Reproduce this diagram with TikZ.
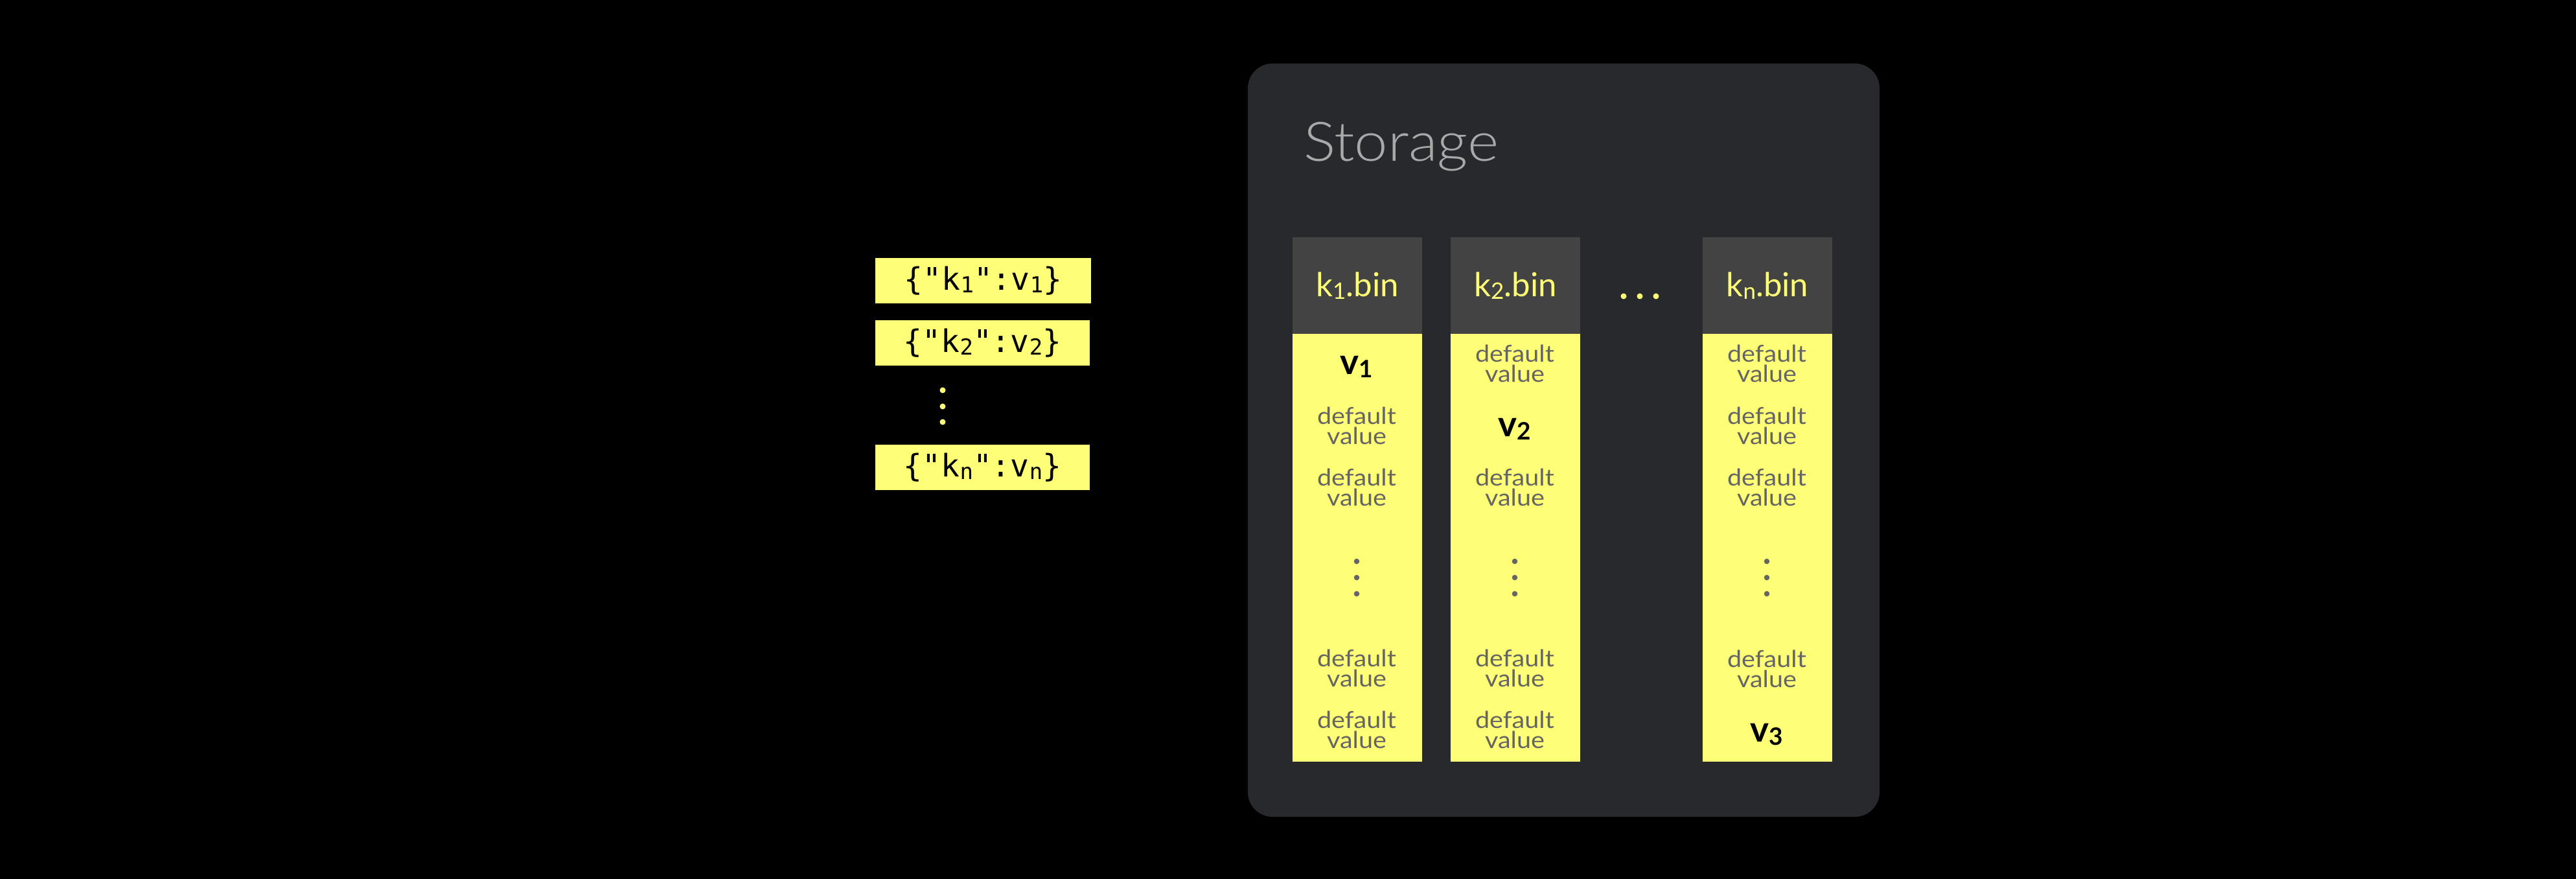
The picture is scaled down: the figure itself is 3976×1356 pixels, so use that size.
\documentclass[tikz,border=0pt]{standalone}
\usepackage{fontspec}
\setmainfont{Lato}
\newfontfamily\lightfont{Lato Light}[FakeStretch=1.1]
\newfontfamily\dvfont{Lato}[FakeStretch=1.1]
\newfontfamily\codefont{DejaVu Sans Mono}
\definecolor{boxbg}{HTML}{28292D}
\definecolor{hdr}{HTML}{434343}
\definecolor{yel}{HTML}{FFFF77}
\definecolor{graytxt}{HTML}{656565}
\definecolor{stortxt}{HTML}{A9A9A9}
\newcommand\hsub[1]{\raisebox{-0.8pt}{\fontsize{7}{7}\selectfont #1}}
\newcommand\vsub[1]{\raisebox{-0.9pt}{\fontsize{7.4}{7.4}\selectfont\bfseries #1}}
\newcommand\csub[1]{\raisebox{-0.9pt}{\fontsize{6.8}{6.8}\selectfont #1}}
\begin{document}
\begin{tikzpicture}[x=0.2pt,y=-0.2pt,
  dv/.style={font=\dvfont\fontsize{7.2}{6.2}\selectfont, text=graytxt, align=center, inner sep=0pt},
  vv/.style={font=\fontsize{11}{11}\selectfont\bfseries, text=black, inner sep=0pt, anchor=base},
  hdrbox/.style={fill=hdr, minimum width=40pt, minimum height=29.8pt, inner sep=0pt, anchor=north west, text=yel, font=\fontsize{10.2}{10.2}\selectfont},
  bodybox/.style={fill=yel, minimum width=40pt, minimum height=132pt, inner sep=0pt, anchor=north west},
  kvbox/.style={fill=yel, minimum width=66.4pt, minimum height=14pt, inner sep=0pt, anchor=north west, text=black, font=\codefont\fontsize{9.6}{9.6}\selectfont},
  graydot/.style={fill=graytxt, circle, inner sep=0pt, minimum size=1.7pt},
  yeldot/.style={fill=yel, circle, inner sep=0pt, minimum size=1.8pt}
]
\fill[black] (0,0) rectangle (3976,1356);
\useasboundingbox (0,0) rectangle (3976,1356);

% left key-value items
\node[kvbox, minimum width=66.6pt] (kv1) at (1350,397) {\{"k\csub{1}":v\csub{1}\}};
\node[kvbox, minimum width=66.2pt] (kv2) at (1350,493) {\{"k\csub{2}":v\csub{2}\}};
\node[kvbox, minimum width=66.2pt] (kvn) at (1350,685) {\{"k\csub{n}":v\csub{n}\}};
\node[yeldot] (kd1) at (1455,602) {};
\node[yeldot] (kd2) at (1455,627) {};
\node[yeldot] (kd3) at (1455,651) {};

% storage box
\node[fill=boxbg, rounded corners=7.6pt, minimum width=195pt, minimum height=232.4pt, inner sep=0pt, anchor=north west] (storage) at (1925,97) {};
\node[anchor=base west, inner sep=0pt, text=stortxt, font=\lightfont\fontsize{16.8}{16.8}\selectfont] (stlabel) at (2011,249) {Storage};

% columns
\node[hdrbox] (hdr1) at (1994,365) {k\hsub{1}.bin};
\node[hdrbox] (hdr2) at (2238,365) {k\hsub{2}.bin};
\node[hdrbox] (hdrn) at (2627,365) {k\hsub{n}.bin};
\node[bodybox] (col1) at (1994,514) {};
\node[bodybox] (col2) at (2238,514) {};
\node[bodybox] (coln) at (2627,514) {};

% horizontal ellipsis
\node[yeldot] (hd1) at (2506,457) {};
\node[yeldot] (hd2) at (2531,457) {};
\node[yeldot] (hd3) at (2556,457) {};

% column 1
\node[vv] (c1a) at (2094,578) {v\vsub{1}};
\node[dv] (c1b) at (2094,657) {default\\value};
\node[dv] (c1c) at (2094,752) {default\\value};
\node[graydot] (c1d1) at (2094,866) {};
\node[graydot] (c1d2) at (2094,891) {};
\node[graydot] (c1d3) at (2094,916) {};
\node[dv] (c1e) at (2094,1031) {default\\value};
\node[dv] (c1f) at (2094,1126) {default\\value};

% column 2
\node[dv] (c2a) at (2338,561) {default\\value};
\node[vv] (c2b) at (2338,674) {v\vsub{2}};
\node[dv] (c2c) at (2338,752) {default\\value};
\node[graydot] (c2d1) at (2338,866) {};
\node[graydot] (c2d2) at (2338,891) {};
\node[graydot] (c2d3) at (2338,916) {};
\node[dv] (c2e) at (2338,1031) {default\\value};
\node[dv] (c2f) at (2338,1126) {default\\value};

% column n
\node[dv] (cna) at (2727,561) {default\\value};
\node[dv] (cnb) at (2727,657) {default\\value};
\node[dv] (cnc) at (2727,752) {default\\value};
\node[graydot] (cnd1) at (2727,866) {};
\node[graydot] (cnd2) at (2727,891) {};
\node[graydot] (cnd3) at (2727,916) {};
\node[dv] (cne) at (2727,1032) {default\\value};
\node[vv] (cnf) at (2727,1145) {v\vsub{3}};
\end{tikzpicture}
\end{document}
